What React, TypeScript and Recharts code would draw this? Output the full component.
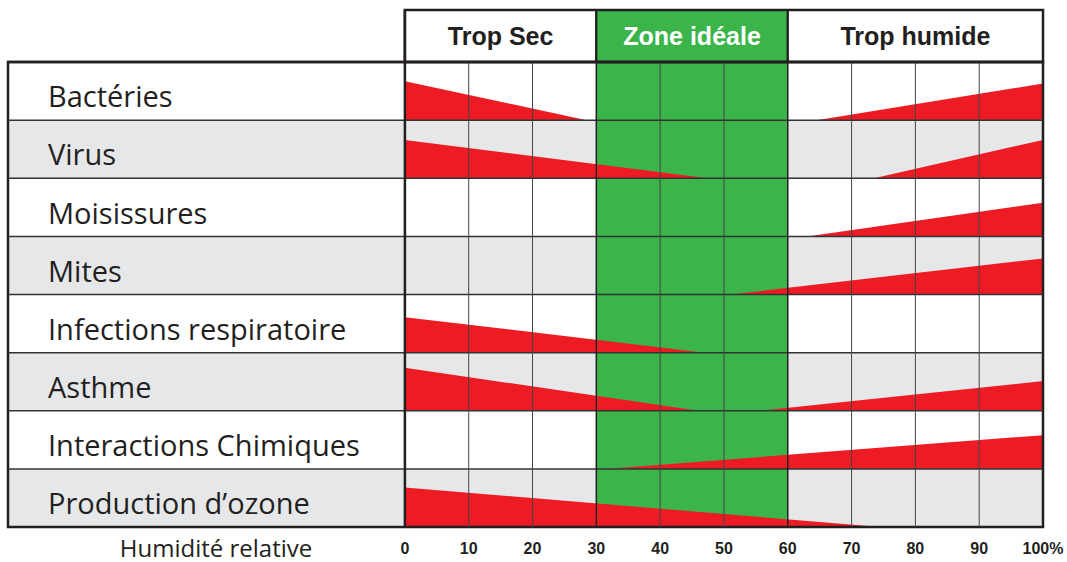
import React from 'react';
import {
  ComposedChart,
  Area,
  XAxis,
  YAxis,
  ReferenceArea,
  ReferenceLine,
} from 'recharts';

// Risques liés à l'humidité relative (lignes du haut vers le bas)
const risks = [
  'Bactéries',
  'Virus',
  'Moisissures',
  'Mites',
  'Infections respiratoire',
  'Asthme',
  'Interactions Chimiques',
  'Production d’ozone',
];

// coin "sec" : hauteur à 0 % (part de la ligne) et humidité où il s'annule
const dryHeight = [0.67, 0.66, null, null, 0.61, 0.74, null, 0.68];
const dryEnd = [28.5, 47.5, null, null, 47, 46, null, 74.5];

// coin "humide" : humidité où il commence et hauteur à 100 %
const wetStart = [64.5, 73.5, 63, 51, null, 55.5, 31.5, null];
const wetHeight = [0.63, 0.66, 0.58, 0.62, null, 0.51, 0.58, null];

const zoneLabels = ['Trop Sec', 'Zone idéale', 'Trop humide'];
const zoneBounds = [0, 30, 60, 100];

const humidityTicks = [0, 10, 20, 30, 40, 50, 60, 70, 80, 90, 100];
const axisTitle = 'Humidité relative';

const RED = '#ed1c24';
const GREEN = '#3bb54a';
const GRAY = '#e6e7e8';
const INK = '#231f20';

const WIDTH = 1067;
const HEIGHT = 562;
// the label column sits left of 0 %, on the same scale
const LEFT = -62.2;
const HEADER_TOP = 8.895;
const ROWS = risks.length;

const labelFont = '"Open Sans", "Noto Sans", sans-serif';
const boldFont = '"Liberation Sans", Arial, sans-serif';

export default function App() {
  const wedges: { key: string; data: { x: number; band: number[] }[] }[] = [];
  risks.forEach((_, i) => {
    const base = ROWS - 1 - i;
    const dh = dryHeight[i];
    const de = dryEnd[i];
    if (dh != null && de != null) {
      wedges.push({
        key: `dry-${i}`,
        data: [
          { x: 0, band: [base, base + dh] },
          { x: de, band: [base, base] },
        ],
      });
    }
    const ws = wetStart[i];
    const wh = wetHeight[i];
    if (ws != null && wh != null) {
      wedges.push({
        key: `wet-${i}`,
        data: [
          { x: ws, band: [base, base] },
          { x: 100, band: [base, base + wh] },
        ],
      });
    }
  });

  return (
    <div style={{ position: 'absolute', left: 0, top: 0, width: WIDTH, height: HEIGHT, background: '#fff' }}>
      <ComposedChart
        width={WIDTH}
        height={HEIGHT}
        margin={{ top: 10, right: 24, bottom: 5, left: 8 }}
      >
        <XAxis
          type="number"
          dataKey="x"
          domain={[LEFT, 100]}
          ticks={humidityTicks}
          allowDataOverflow
          height={30}
          axisLine={false}
          tickLine={false}
          tick={{ fontFamily: boldFont, fontWeight: 'bold', fontSize: 16, fill: INK }}
          tickFormatter={(v: number) => (v === 100 ? '100%' : String(v))}
          dy={8}
        />
        <YAxis type="number" domain={[0, HEADER_TOP]} hide width={0} allowDataOverflow />

        {/* row backgrounds + labels */}
        {risks.map((name, i) => (
          <ReferenceArea
            key={name}
            x1={LEFT}
            x2={100}
            y1={ROWS - 1 - i}
            y2={ROWS - i}
            fill={i % 2 === 0 ? '#ffffff' : GRAY}
            fillOpacity={1}
            stroke="none"
            label={{
              value: name,
              position: 'insideLeft',
              offset: 40,
              dy: 6,
              fill: INK,
              fontSize: 29,
              fontFamily: labelFont,
            }}
          />
        ))}

        {/* ideal zone */}
        <ReferenceArea x1={30} x2={60} y1={0} y2={ROWS} fill={GREEN} fillOpacity={1} stroke="none" />

        {/* header */}
        {zoneLabels.map((z, i) => (
          <ReferenceArea
            key={z}
            x1={zoneBounds[i]}
            x2={zoneBounds[i + 1]}
            y1={ROWS}
            y2={HEADER_TOP}
            fill={i === 1 ? GREEN : '#ffffff'}
            fillOpacity={1}
            stroke={INK}
            strokeWidth={2}
            label={{
              value: z,
              position: 'center',
              fill: i === 1 ? '#ffffff' : INK,
              fontSize: 25,
              fontWeight: 'bold',
              fontFamily: boldFont,
            }}
          />
        ))}

        {wedges.map((w) => (
          <Area
            key={w.key}
            data={w.data}
            dataKey="band"
            type="linear"
            fill={RED}
            fillOpacity={1}
            stroke="none"
            isAnimationActive={false}
            dot={false}
            activeDot={false}
          />
        ))}

        {/* grid */}
        {[1, 2, 3, 4, 5, 6, 7].map((y) => (
          <ReferenceLine key={`h${y}`} y={y} stroke="#333" strokeWidth={1.5} />
        ))}
        {humidityTicks
          .filter((t) => t > 0 && t < 100 && t !== 30 && t !== 60)
          .map((t) => (
            <ReferenceLine
              key={`v${t}`}
              segment={[
                { x: t, y: 0 },
                { x: t, y: ROWS },
              ]}
              stroke="#444"
              strokeWidth={1}
            />
          ))}
        {[30, 60].map((t) => (
          <ReferenceLine
            key={`z${t}`}
            segment={[
              { x: t, y: 0 },
              { x: t, y: HEADER_TOP },
            ]}
            stroke={INK}
            strokeWidth={1.5}
          />
        ))}
        <ReferenceLine
          segment={[
            { x: 0, y: 0 },
            { x: 0, y: HEADER_TOP },
          ]}
          stroke={INK}
          strokeWidth={2.5}
        />
        <ReferenceLine y={ROWS} stroke={INK} strokeWidth={2.5} />
        <ReferenceArea x1={LEFT} x2={100} y1={0} y2={ROWS} fill="none" stroke={INK} strokeWidth={2.5} />
        <ReferenceArea x1={0} x2={100} y1={ROWS} y2={HEADER_TOP} fill="none" stroke={INK} strokeWidth={2.5} />
      </ComposedChart>
      <div
        style={{
          position: 'absolute',
          left: 8,
          width: 416,
          top: 536,
          height: 24,
          lineHeight: '24px',
          textAlign: 'center',
          fontFamily: labelFont,
          fontSize: 24,
          color: INK,
          whiteSpace: 'nowrap',
        }}
      >
        {axisTitle}
      </div>
    </div>
  );
}
